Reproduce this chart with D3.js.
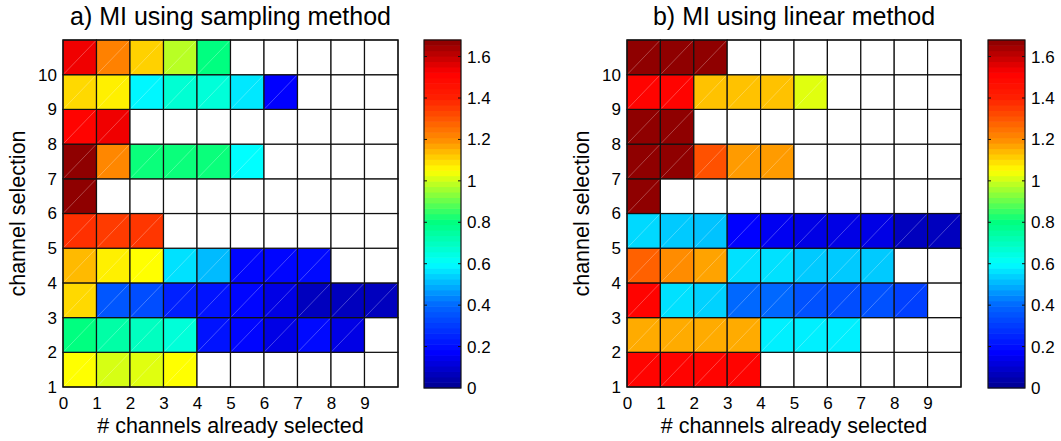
<!DOCTYPE html>
<html>
<head>
  <meta charset="utf-8">
  <title>MI heatmaps</title>
  <style>
    body {margin: 0; background: #fff;}
    svg {font-family: "Liberation Sans", Arial, Helvetica, sans-serif;}
    .tick text {fill: #000;}
    .cell {stroke: #111; stroke-width: 1.2;}
    .diag {stroke: #fff; stroke-opacity: 0.45; stroke-width: 0.6;}
  </style>
</head>
<body>
<svg width="1061" height="441"></svg>
<script src="https://cdn.jsdelivr.net/npm/d3@7"></script>
<script>

// tick labels
var alreadySelected = [0, 1, 2, 3, 4, 5, 6, 7, 8, 9];
var channels = [1, 2, 3, 4, 5, 6, 7, 8, 9, 10];
var cbTicks = [0, 0.2, 0.4, 0.6, 0.8, 1, 1.2, 1.4, 1.6];
var cbMax = 1.68;

// MI values, one row per channel (1..10), columns = # channels already selected (0..9)
var samplingMI = [
  [1.05, 1.01, 1.02, 1.05, null, null, null, null, null, null],
  [0.80, 0.74, 0.70, 0.66, 0.21, 0.18, 0.13, 0.19, 0.13, null],
  [1.10, 0.36, 0.34, 0.24, 0.21, 0.18, 0.13, 0.07, 0.07, 0.07],
  [1.14, 1.07, 1.05, 0.56, 0.51, 0.18, 0.18, 0.19, null, null],
  [1.37, 1.35, 1.36, null, null, null, null, null, null, null],
  [1.67, null, null, null, null, null, null, null, null, null],
  [1.67, 1.21, 0.81, 0.81, 0.81, 0.60, null, null, null, null],
  [1.51, 1.54, null, null, null, null, null, null, null, null],
  [1.10, 1.07, 0.59, 0.67, 0.66, 0.57, 0.17, null, null, null],
  [1.54, 1.22, 1.11, 0.98, 0.80, null, null, null, null, null]
];

var linearMI = [
  [1.51, 1.51, 1.51, 1.51, null, null, null, null, null, null],
  [1.16, 1.16, 1.16, 1.16, 0.58, 0.58, 0.58, null, null, null],
  [1.51, 0.56, 0.54, 0.40, 0.40, 0.35, 0.34, 0.35, 0.31, null],
  [1.28, 1.20, 1.17, 0.56, 0.56, 0.53, 0.53, 0.53, null, null],
  [0.55, 0.53, 0.52, 0.17, 0.15, 0.13, 0.13, 0.13, 0.07, 0.07],
  [1.67, null, null, null, null, null, null, null, null, null],
  [1.67, 1.67, 1.31, 1.18, 1.18, null, null, null, null, null],
  [1.67, 1.67, null, null, null, null, null, null, null, null],
  [1.51, 1.51, 1.13, 1.13, 1.13, 1.02, null, null, null, null],
  [1.67, 1.67, 1.67, null, null, null, null, null, null, null]
];

var svg = d3.select("svg");

// jet-like colour map (matched to the colour bar)
var color = d3.scaleLinear()
    .domain([0, 0.17, 0.4, 0.6, 0.8, 1.05, 1.2, 1.4, 1.52, 1.68])
    .range(["#000090", "#0000ff", "#0068ff", "#00ffff", "#00ff80", "#ffff00", "#ff8c00", "#ff2000", "#ff0000", "#880000"])
    .clamp(true);

var plotTop = 40, plotBottom = 387;

function drawPanel(data, title, left, right, cbLeft) {
  var g = svg.append("g");

  var x = d3.scaleLinear().domain([0, 10]).range([left, right]),
      y = d3.scaleLinear().domain([1, 11]).range([plotBottom, plotTop]);

  var cells = [];
  data.forEach(function(row, r) {
    row.forEach(function(v, c) {
      cells.push({ch: channels[r], col: c, v: v});
    });
  });

  g.selectAll(".cell")
      .data(cells)
    .enter().append("rect")
      .attr("class", "cell")
      .attr("x", function(d) { return x(d.col); })
      .attr("y", function(d) { return y(d.ch + 1); })
      .attr("width", function(d) { return x(d.col + 1) - x(d.col); })
      .attr("height", function(d) { return y(d.ch) - y(d.ch + 1); })
      .attr("fill", function(d) { return d.v == null ? "#fff" : color(d.v); });

  // faint triangulation edge of each coloured patch
  g.selectAll(".diag")
      .data(cells.filter(function(d) { return d.v != null; }))
    .enter().append("line")
      .attr("class", "diag")
      .attr("x1", function(d) { return x(d.col) + 1; })
      .attr("y1", function(d) { return y(d.ch) - 1; })
      .attr("x2", function(d) { return x(d.col + 1) - 1; })
      .attr("y2", function(d) { return y(d.ch + 1) + 1; });

  g.append("rect")
      .attr("x", left).attr("y", plotTop)
      .attr("width", right - left).attr("height", plotBottom - plotTop)
      .attr("fill", "none").attr("stroke", "#111").attr("stroke-width", 1.2);

  var xAxis = g.append("g")
      .attr("transform", "translate(0," + plotBottom + ")")
      .call(d3.axisBottom(x).tickValues(alreadySelected).tickSize(0).tickPadding(10).tickFormat(d3.format("d")))
      .attr("font-size", 17).attr("font-family", null);
  xAxis.select(".domain").remove();

  var yAxis = g.append("g")
      .attr("transform", "translate(" + left + ",0)")
      .call(d3.axisLeft(y).tickValues(channels).tickSize(0).tickPadding(6).tickFormat(d3.format("d")))
      .attr("font-size", 17).attr("font-family", null);
  yAxis.select(".domain").remove();

  g.append("text")
      .attr("x", (left + right) / 2)
      .attr("y", 433)
      .attr("text-anchor", "middle")
      .attr("font-size", 21.5)
      .text("# channels already selected");

  g.append("text")
      .attr("transform", "translate(" + (left - 38) + "," + ((plotTop + plotBottom) / 2) + ") rotate(-90)")
      .attr("text-anchor", "middle")
      .attr("font-size", 21.5)
      .text("channel selection");

  g.append("text")
      .attr("x", (left + right) / 2)
      .attr("y", 25)
      .attr("text-anchor", "middle")
      .attr("font-size", 25)
      .text(title);

  // colour bar
  var cbW = 37, cbBottom = 388;
  var cb = d3.scaleLinear().domain([0, cbMax]).range([cbBottom, plotTop]);
  var steps = d3.range(64).map(function(i) { return i * cbMax / 64; });
  g.selectAll(".cbstep")
      .data(steps)
    .enter().append("rect")
      .attr("x", cbLeft)
      .attr("y", function(d) { return cb(d + cbMax / 64) - 0.3; })
      .attr("width", cbW)
      .attr("height", function(d) { return cb(d) - cb(d + cbMax / 64) + 0.6; })
      .attr("fill", function(d) { return color(d + cbMax / 128); });

  g.append("rect")
      .attr("x", cbLeft).attr("y", plotTop)
      .attr("width", cbW).attr("height", cbBottom - plotTop)
      .attr("fill", "none").attr("stroke", "#111").attr("stroke-width", 1.2);

  g.selectAll(".cbtickL")
      .data(cbTicks.slice(1))
    .enter().append("line")
      .attr("x1", cbLeft).attr("x2", cbLeft + 3)
      .attr("y1", function(d) { return cb(d); }).attr("y2", function(d) { return cb(d); })
      .attr("stroke", "#111");
  g.selectAll(".cbtickR")
      .data(cbTicks.slice(1))
    .enter().append("line")
      .attr("x1", cbLeft + cbW - 3).attr("x2", cbLeft + cbW)
      .attr("y1", function(d) { return cb(d); }).attr("y2", function(d) { return cb(d); })
      .attr("stroke", "#111");

  var cbAxis = g.append("g")
      .attr("transform", "translate(" + (cbLeft + cbW) + ",0)")
      .call(d3.axisRight(cb).tickValues(cbTicks).tickSize(0).tickPadding(6).tickFormat(d3.format("~g")))
      .attr("font-size", 17).attr("font-family", null);
  cbAxis.select(".domain").remove();
}

drawPanel(samplingMI, "a) MI using sampling method", 63, 398, 424);
drawPanel(linearMI, "b) MI using linear method", 627, 961, 988);

</script>
</body>
</html>
